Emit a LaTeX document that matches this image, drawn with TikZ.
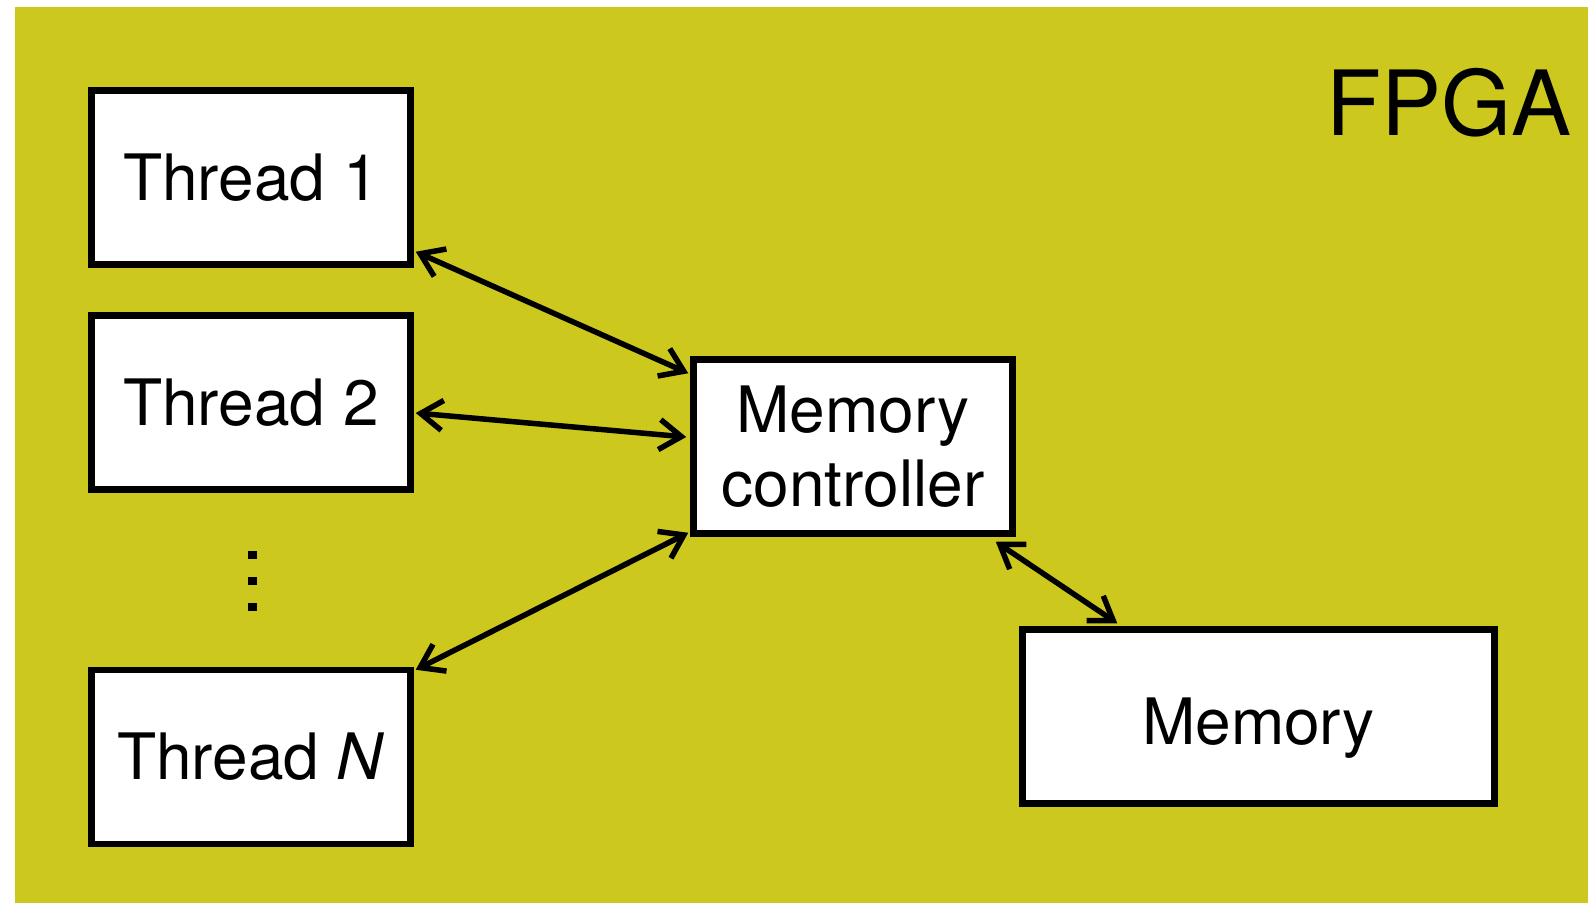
\documentclass[tikz,border=0pt]{standalone}
\usepackage{fontspec}
\setmainfont{TeX Gyre Heros}
\usetikzlibrary{arrows.meta}
\definecolor{fpga}{RGB}{205,200,30}
\tikzset{
  box/.style={draw=black, line width=6.5pt, fill=white, inner sep=0pt,
    minimum width=319pt, minimum height=174pt, font=\fontsize{64}{74}\selectfont, align=center},
  link/.style={line width=5.5pt, {Straight Barb[length=22pt,width=30pt]}-{Straight Barb[length=22pt,width=30pt]}}
}
\begin{document}
\begin{tikzpicture}[x=1pt,y=-1pt]
\useasboundingbox (0,0) rectangle (1588,903);
\fill[white] (0,0) rectangle (1588,903);
\fill[fpga] (15,7) rectangle (1588,903);
\node[anchor=base east, font=\fontsize{90}{90}\selectfont] (fpgalabel) at (1575,135) {FPGA};
\node[box] (t1) at (251,177.5) {Thread 1};
\node[box] (t2) at (251,402.5) {Thread 2};
\node[box] (tn) at (251,757) {Thread \textit{N}};
\node[box] (mc) at (853,446.5) {Memory\\controller};
\node[box, minimum width=472pt, text depth=0pt] (mem) at (1258.5,716.5) {\raisebox{-10pt}{Memory}};
\foreach \yy in {551,577,603} \fill (248,\yy) rectangle (257,\yy+8);
\draw[link] ([xshift=2pt,yshift=16pt]t1.south east) -- ([xshift=-2pt,yshift=-17pt]mc.north west);
\draw[link] ([xshift=2pt,yshift=-10.5pt]t2.east) -- ([xshift=-4pt,yshift=9.5pt]mc.west);
\draw[link] ([xshift=2pt,yshift=-3pt]tn.north east) -- ([xshift=-2pt,yshift=4pt]mc.south west);
\draw[link] ([xshift=-20pt,yshift=-5pt]mc.south east) -- ([xshift=98pt,yshift=3pt]mem.north west);
\end{tikzpicture}
\end{document}
